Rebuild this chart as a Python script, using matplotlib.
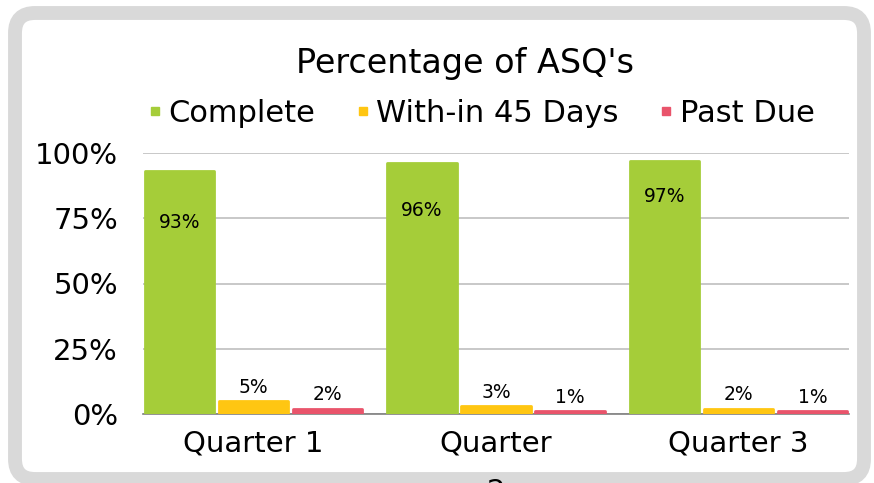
import numpy as np
import matplotlib
matplotlib.use('Agg')
import matplotlib.pyplot as plt
from matplotlib.patches import FancyBboxPatch
from matplotlib.lines import Line2D

plt.rcParams['font.family'] = ['DejaVu Sans']

# Data
quarters = ['Quarter 1', 'Quarter\n2', 'Quarter 3']
series = ['Complete', 'With-in 45 Days', 'Past Due']
complete = [93, 96, 97]
within_45 = [5, 3, 2]
past_due = [2, 1, 1]
colors = ['#a5cd39', '#ffc612', '#e9546b']

fig = plt.figure(figsize=(8.74, 4.83), dpi=100)

# rounded grey frame (inches, from the bottom left)
frame = FancyBboxPatch((0.15, 0.04), 8.49, 4.66,
                       boxstyle='round,pad=0,rounding_size=0.2',
                       transform=fig.dpi_scale_trans, facecolor='white',
                       edgecolor='#d9d9d9', linewidth=10, zorder=-1)
fig.add_artist(frame)

ax = fig.add_axes([143 / 874, 1 - 414 / 483, 706 / 874, 261 / 483])
ax.set_facecolor('none')

x = np.arange(len(quarters))
width = 0.285
offsets = [-0.305, 0, 0.305]
values = [complete, within_45, past_due]
inside_shift = [-37, -34, -26]   # label drop inside the green bars (points)

for k, (vals, off, col) in enumerate(zip(values, offsets, colors)):
    bars = ax.bar(x + off, vals, width, color=col, edgecolor=col,
                  linewidth=2, joinstyle='round', zorder=3)
    for i, (b, v) in enumerate(zip(bars, vals)):
        cx = b.get_x() + b.get_width() / 2
        dy = inside_shift[i] if k == 0 else 10
        ax.annotate(f'{v}%', (cx, v), xytext=(0, dy), textcoords='offset points',
                    ha='center', va='center', fontsize=13.5, color='black', zorder=4)

ax.set_xlim(-0.4557, 2.4557)
ax.set_ylim(0, 100)
ax.set_yticks([0, 25, 50, 75, 100])
ax.set_yticklabels(['0%', '25%', '50%', '75%', '100%'])
ax.set_xticks(x)
ax.set_xticklabels(quarters, linespacing=1.95)
ax.yaxis.grid(True, color='#bfbfbf', linewidth=1.2, zorder=0)
ax.set_axisbelow(True)
for s in ['top', 'right', 'left']:
    ax.spines[s].set_visible(False)
ax.spines['bottom'].set_color('#7f7f7f')
ax.spines['bottom'].set_linewidth(1.2)
ax.tick_params(axis='both', length=0, labelsize=21)
ax.tick_params(axis='y', pad=18)
ax.tick_params(axis='x', pad=11)

fig.text(0.5315, 1 - 63 / 483, "Percentage of ASQ's", ha='center', va='center', fontsize=24)

handles = [Line2D([], [], marker='s', linestyle='none', markersize=6,
                  markerfacecolor=c, markeredgecolor=c) for c in colors]
fig.legend(handles, series, loc='center', bbox_to_anchor=(0.551, 1 - 113 / 483),
           ncol=3, frameon=False, fontsize=22, handlelength=0.4,
           handletextpad=0.25, columnspacing=1.35)

fig.savefig('out.png', dpi=100)
